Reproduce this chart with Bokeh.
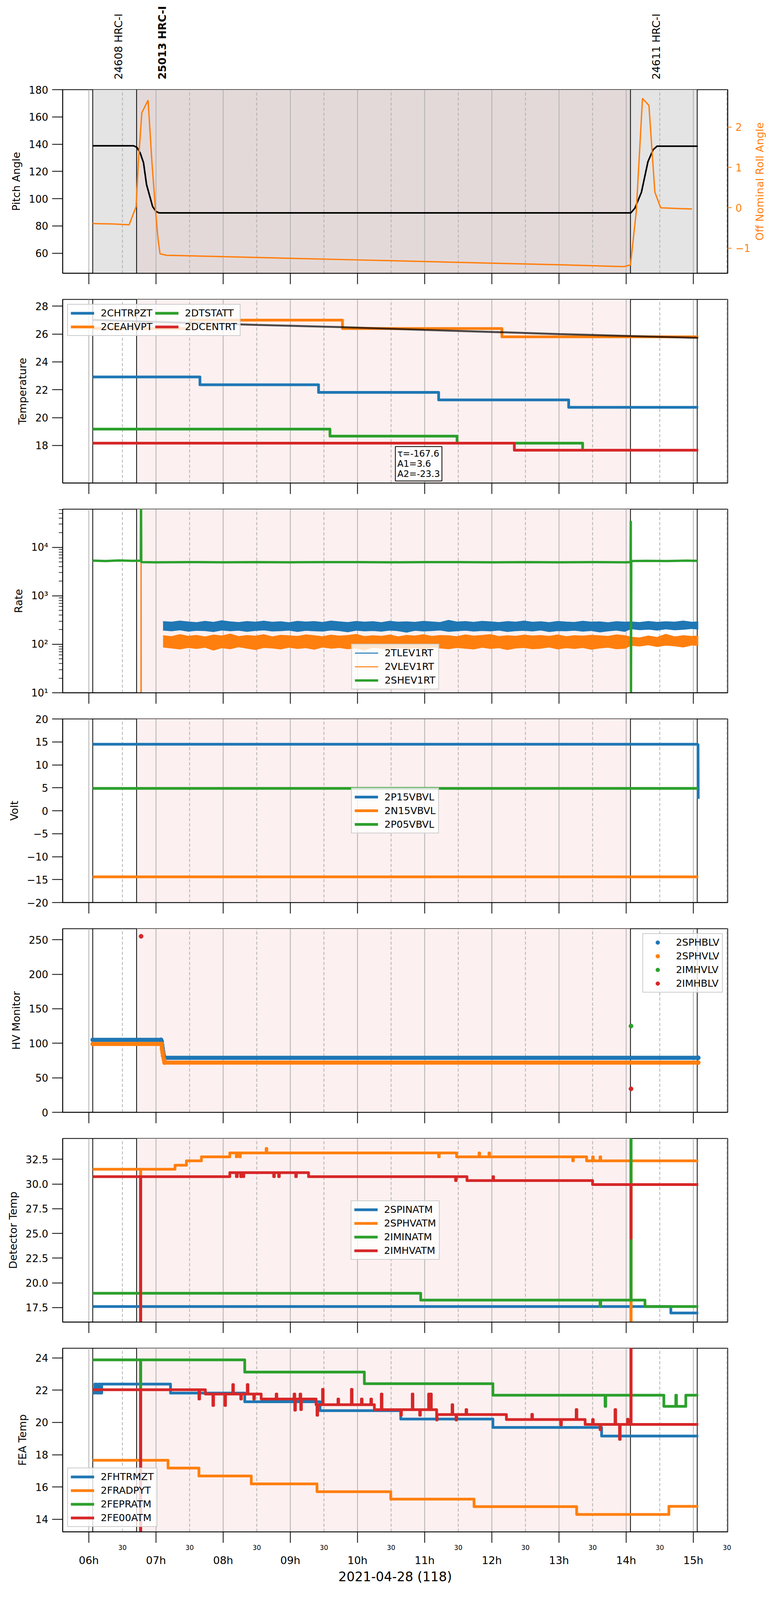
"""
HRC telemetry overview for 2021-04-28 (118): pitch/roll, temperatures,
rates, voltages, HV monitors, detector and FEA temperatures.
Seven stacked Bokeh panels sharing one time axis (decimal hours),
with a thin header strip for the observation names.
"""

import math

from bokeh.core.properties import value
from bokeh.embed import file_html
from bokeh.layouts import column, row
from bokeh.models import (
    BoxAnnotation,
    FixedTicker,
    Grid,
    Label,
    LinearAxis,
    PrintfTickFormatter,
    Range1d,
    Span,
)
from bokeh.plotting import figure
from bokeh.resources import INLINE

FONT = "DejaVu Sans"
BLUE, ORANGE, GREEN, RED = "#1f77b4", "#ff7f0e", "#2ca02c", "#d62728"
FRAME_W, FRAME_H = 1703, 470

# ── time axis (hours of the day) ───────────────────────────
X_START, X_END = 5.6105, 15.5116
HOURS = [6, 7, 8, 9, 10, 11, 12, 13, 14, 15]
HOUR_LABELS = ["06h", "07h", "08h", "09h", "10h", "11h", "12h", "13h", "14h", "15h"]
HALF_HOURS = [6.5, 7.5, 8.5, 9.5, 10.5, 11.5, 12.5, 13.5, 14.5, 15.5]
X_TITLE = "2021-04-28 (118)"

# ── observations ───────────────────────────────────────────
OBS_START = [6.058, 6.711, 14.064]
OBS_END = 15.058
OBS_NAMES = ["24608 HRC-I", "25013 HRC-I", "24611 HRC-I"]
MAIN_OBS = 1

# ── panel 1: pitch / off nominal roll ──────────────────────
ROLL_LABEL = "Off Nominal Roll Angle"
PITCH_T = [6.058, 6.669, 6.717, 6.765, 6.814, 6.859, 6.949, 7.000, 7.045,
           14.070, 14.130, 14.227, 14.324, 14.401, 14.459, 15.066]
PITCH_V = [138.8, 138.8, 137.6, 133.5, 126.4, 110.4, 94.3, 90.6, 89.6,
           89.6, 93.1, 104.7, 127.1, 135.9, 138.5, 138.5]
ROLL_T = [6.058, 6.35, 6.600, 6.704, 6.737, 6.789, 6.882, 6.940, 6.993, 7.030,
          7.060, 7.157, 8.0, 9.0, 10.0, 11.0, 12.0, 13.0, 13.968, 14.064,
          14.150, 14.243, 14.339, 14.427, 14.514, 14.800, 14.980]
ROLL_V = [-0.39, -0.40, -0.42, 0.03, 1.11, 2.355, 2.663, 1.11, -0.06, -0.77,
          -1.14, -1.175, -1.21, -1.25, -1.29, -1.33, -1.37, -1.41, -1.456, -1.414,
          -0.10, 2.708, 2.536, 0.389, 0.0, -0.02, -0.03]

# ── panel 2: temperatures ──────────────────────────────────
CHTRPZT_T = [6.058, 7.654, 9.420, 11.208, 13.144, 15.073]
CHTRPZT_V = [22.92, 22.36, 21.81, 21.27, 20.74, 20.74]
CEAHVPT_T = [6.058, 7.513, 9.776, 12.150, 15.073]
CEAHVPT_V = [26.40, 27.00, 26.40, 25.80, 25.80]
DTSTATT_T = [6.058, 9.590, 11.482, 13.352, 15.073]
DTSTATT_V = [19.17, 18.67, 18.16, 17.66, 17.66]
DCENTRT_T = [6.058, 12.335, 15.073]
DCENTRT_V = [18.16, 17.66, 17.66]
FIT_T = [6.058, 7.513, 8.5, 9.828, 11.0, 12.15, 13.0, 14.06, 15.073]
FIT_V = [27.02, 26.80, 26.66, 26.49, 26.30, 26.13, 26.00, 25.86, 25.73]
FIT_TEXT = "\u03c4=-167.6\nA1=3.6\nA2=-23.3"

# ── panel 3: rates (band = low/high of the readings per bin) ─
RATE_T = [7.105, 7.23, 7.355, 7.48, 7.605, 7.73, 7.855, 7.98,
          8.105, 8.23, 8.355, 8.48, 8.605, 8.73, 8.855, 8.98,
          9.105, 9.23, 9.355, 9.48, 9.605, 9.73, 9.855, 9.98,
          10.105, 10.23, 10.355, 10.48, 10.605, 10.73, 10.855, 10.98,
          11.105, 11.23, 11.355, 11.48, 11.605, 11.73, 11.855, 11.98,
          12.105, 12.23, 12.355, 12.48, 12.605, 12.73, 12.855, 12.98,
          13.105, 13.23, 13.355, 13.48, 13.605, 13.73, 13.855, 13.98,
          14.07, 14.2, 14.33, 14.46, 14.59, 14.72, 14.85, 14.98,
          15.073]
TLEV1RT_HI = [292, 285, 300, 288, 279, 296, 283, 305,
              290, 281, 294, 286, 299, 284, 291, 278,
              297, 287, 293, 282, 300, 289, 280, 295,
              286, 292, 279, 298, 285, 290, 283, 296,
              288, 281, 310, 287, 294, 283, 297, 289,
              280, 293, 286, 300, 284, 291, 279, 295,
              287, 282, 298, 285, 290, 278, 292, 286,
              288, 280, 295, 283, 291, 286, 300, 284,
              290]
TLEV1RT_LO = [196, 190, 199, 186, 194, 192, 183, 197,
              190, 195, 185, 193, 198, 188, 191, 196,
              184, 194, 190, 187, 197, 192, 181, 195,
              189, 193, 186, 196, 191, 178, 194, 188,
              192, 197, 185, 190, 195, 187, 193, 189,
              196, 184, 191, 194, 188, 197, 183, 192,
              190, 195, 186, 193, 180, 189, 196, 185,
              210, 200, 205, 196, 208, 199, 204, 212,
              205]
VLEV1RT_HI = [150, 143, 158, 146, 152, 141, 155, 148,
              162, 144, 151, 147, 157, 142, 153, 149,
              145, 156, 150, 143, 154, 147, 151, 159,
              144, 150, 146, 155, 142, 152, 148, 157,
              145, 151, 149, 143, 156, 147, 152, 158,
              144, 150, 146, 154, 148, 151, 145, 156,
              143, 150, 147, 153, 149, 145, 156, 150,
              140, 135, 148, 138, 160, 142, 150, 145,
              148]
VLEV1RT_LO = [88, 84, 80, 86, 82, 87, 76, 85,
              81, 89, 83, 78, 86, 84, 80, 87,
              82, 85, 79, 88, 83, 86, 81, 84,
              77, 87, 83, 80, 86, 82, 85, 79,
              88, 84, 81, 86, 83, 80, 87, 82,
              85, 78, 84, 86, 81, 83, 88, 80,
              85, 82, 86, 79, 84, 87, 81, 83,
              95, 92, 98, 90, 96, 93, 88, 97,
              94]
VLEV1RT_SPIKE_T = [6.775, 6.778, 6.781]
VLEV1RT_SPIKE_V = [1, 100000, 1]
SHEV1RT_T = [6.058, 6.25, 6.45, 6.65, 6.774, 6.777, 6.781, 7.0, 7.5, 8.0,
             8.5, 9.0, 9.5, 10.0, 10.5, 11.0, 11.5, 12.0, 12.5, 13.0,
             13.5, 14.0, 14.066, 14.069, 14.072, 14.076, 14.3, 14.6, 14.9, 15.058]
SHEV1RT_V = [5300, 5200, 5350, 5250, 5300, 100000, 4950, 4900, 4950, 4900,
             4950, 4900, 4950, 4950, 4900, 4950, 4950, 4900, 4950, 4900,
             4950, 4900, 4950, 35000, 5, 5200, 5250, 5200, 5300, 5250]

# ── panel 4: voltages ──────────────────────────────────────
P15VBVL_T = [6.058, 15.070, 15.073]
P15VBVL_V = [14.5, 14.5, 2.6]
N15VBVL_T = [6.058, 15.073]
N15VBVL_V = [-14.4, -14.4]
P05VBVL_T = [6.058, 15.073]
P05VBVL_V = [4.87, 4.87]

# ── panel 5: HV monitors ───────────────────────────────────
SPHBLV_T = [6.058, 7.075, 7.083, 7.090, 7.098, 7.105, 7.113, 7.127, 15.073]
SPHBLV_V = [105, 105, 103, 97.7, 92.5, 87.7, 83, 79, 79]
SPHVLV_T = [6.058, 7.075, 7.083, 7.090, 7.098, 7.105, 7.120, 7.127, 15.073]
SPHVLV_V = [99, 99, 99, 91.6, 87.2, 82, 76, 72, 72]
IMHVLV_T = [14.072]
IMHVLV_V = [125]
IMHBLV_T = [6.778, 14.072]
IMHBLV_V = [255, 34]

# ── panel 6: detector temperatures ─────────────────────────
SPINATM_T = [6.058, 14.665, 15.073]
SPINATM_V = [17.6, 16.95, 16.95]
SPHVATM_T = [6.058, 6.769, 6.773, 7.283, 7.453, 7.676, 8.099, 8.195, 8.205, 8.245,
             8.255, 8.640, 8.650, 11.207, 11.217, 11.475, 11.809, 11.819, 11.957, 11.967,
             13.204, 13.214, 13.411, 13.500, 13.510, 13.611, 13.621, 14.070, 14.074, 15.073]
SPHVATM_V = [31.5, 0.0, 31.5, 31.9, 32.35, 32.75, 33.15, 32.75, 33.15, 32.75,
             33.15, 33.6, 33.15, 32.75, 33.15, 32.75, 33.15, 32.75, 33.15, 32.75,
             32.35, 32.75, 32.35, 32.75, 32.35, 32.75, 32.35, 0.0, 32.35, 32.35]
IMINATM_T = [6.058, 10.941, 13.611, 13.621, 14.070, 14.074, 14.280, 15.073]
IMINATM_V = [18.95, 18.25, 17.6, 18.25, 40.0, 18.25, 17.6, 17.6]
IMHVATM_T = [6.058, 6.769, 6.773, 8.099, 8.196, 8.21, 8.26, 8.27, 8.30, 8.307,
             8.752, 8.762, 8.826, 8.836, 9.08, 9.09, 9.271, 11.460, 11.470, 11.630,
             12.016, 12.026, 13.500, 14.070, 14.074, 15.073]
IMHVATM_V = [30.75, 0.0, 30.75, 31.15, 30.75, 31.15, 30.75, 31.15, 30.75, 31.15,
             30.75, 31.15, 30.75, 31.15, 30.75, 31.15, 30.75, 30.35, 30.75, 30.35,
             30.75, 30.35, 29.95, 24.5, 29.95, 29.95]

# ── panel 7: FEA temperatures ──────────────────────────────
FHTRMZT_T = [6.058, 6.09, 6.12, 6.15, 6.17, 6.192, 7.216, 8.321, 9.442, 10.644,
             12.016, 13.634, 15.073]
FHTRMZT_V = [21.82, 22.38, 21.82, 22.38, 21.82, 22.38, 21.82, 21.28, 20.73, 20.21,
             19.69, 19.16, 19.16]
FRADPYT_T = [6.058, 7.179, 7.639, 8.418, 9.397, 10.495, 11.735, 13.263, 14.636, 15.073]
FRADPYT_V = [17.66, 17.17, 16.68, 16.19, 15.71, 15.25, 14.78, 14.30, 14.80, 14.80]
FEPRATM_T = [6.058, 6.769, 6.773, 8.321, 10.102, 12.016, 13.686, 13.696, 14.561, 14.739,
             14.749, 14.888, 15.073]
FEPRATM_V = [23.88, 0.0, 23.88, 23.12, 22.40, 21.69, 21.0, 21.69, 21.0, 21.69,
             21.0, 21.69, 21.69]
FE00ATM_T = [6.058, 6.769, 6.773, 7.639, 7.649, 7.735, 7.847, 7.857, 8.025, 8.035,
             8.143, 8.153, 8.262, 8.272, 8.359, 8.369, 8.455, 8.465, 8.566, 8.789,
             8.799, 9.056, 9.066, 9.076, 9.145, 9.155, 9.165, 9.383, 9.397, 9.407,
             9.479, 9.489, 9.709, 9.719, 9.909, 9.919, 10.058, 10.068, 10.199, 10.209,
             10.251, 10.354, 10.364, 10.644, 10.654, 10.815, 10.825, 10.926, 10.936, 11.059,
             11.069, 11.089, 11.099, 11.178, 11.185, 11.408, 11.418, 11.467, 11.477, 11.616,
             11.626, 12.217, 12.595, 12.605, 13.026, 13.036, 13.256, 13.266, 13.389, 13.500,
             13.510, 13.611, 13.621, 13.834, 13.844, 13.901, 13.911, 14.020, 14.030, 14.070,
             14.074, 15.073]
FE00ATM_V = [22.03, 0.0, 22.03, 21.45, 22.03, 21.76, 21.05, 21.76, 21.05, 21.76,
             22.35, 21.76, 21.45, 21.76, 22.35, 21.76, 21.45, 21.76, 21.45, 21.76,
             21.45, 21.76, 20.76, 21.45, 21.76, 20.80, 21.45, 21.10, 20.45, 21.10,
             22.05, 21.10, 21.45, 21.10, 22.05, 21.10, 21.45, 21.10, 21.45, 21.10,
             20.79, 21.76, 20.79, 20.45, 20.79, 21.76, 20.79, 20.45, 20.79, 21.76,
             20.79, 21.76, 20.79, 20.15, 20.49, 21.10, 20.49, 20.15, 20.49, 20.80,
             20.49, 20.18, 20.50, 20.18, 19.85, 20.18, 20.80, 20.18, 19.88, 20.18,
             19.88, 19.55, 19.88, 20.80, 19.88, 18.95, 19.88, 20.20, 19.88, 30.0,
             19.88, 19.88]

x_range = Range1d(X_START, X_END)


def _style_y(ax, ticks, overrides=None):
    ax.ticker = FixedTicker(ticks=ticks)
    if overrides:
        ax.major_label_overrides = overrides
    ax.axis_line_color = "black"
    ax.axis_line_width = 2
    ax.major_tick_out = 27
    ax.major_tick_in = 0
    ax.major_tick_line_color = "black"
    ax.major_tick_line_width = 2
    ax.minor_tick_line_color = None
    ax.major_label_text_font = FONT
    ax.major_label_text_font_size = "26px"
    ax.major_label_text_color = "black"
    ax.major_label_standoff = 10
    ax.axis_label_text_font = FONT
    ax.axis_label_text_font_size = "27px"
    ax.axis_label_text_font_style = "normal"
    ax.axis_label_text_color = "black"
    ax.axis_label_standoff = 14


def make_panel(y_range, ylabel, yticks, border_top=33, border_bottom=34,
               border_right=120, y_axis_type="linear", overrides=None, top_panel=False):
    p = figure(
        frame_width=FRAME_W, frame_height=FRAME_H,
        x_range=x_range, y_range=y_range, y_axis_type=y_axis_type,
        output_backend="svg", toolbar_location=None,
        min_border_left=160, min_border_right=border_right,
        min_border_top=border_top, min_border_bottom=border_bottom,
        background_fill_color="white", border_fill_color="white",
        outline_line_color="black", outline_line_width=2, outline_line_alpha=1.0,
    )
    p.xgrid.visible = False
    p.ygrid.visible = False
    for ticks, dash in ((HOURS, "solid"), (HALF_HOURS, "8 5")):
        p.add_layout(Grid(dimension=0, ticker=FixedTicker(ticks=ticks),
                          grid_line_color="#b0b0b0", grid_line_width=2,
                          grid_line_dash=dash))

    # shaded observation intervals
    if top_panel:
        boxes = [(OBS_START[0], OBS_START[1], "#e4e4e4"),
                 (OBS_START[1], OBS_START[2], "#e4d9d9"),
                 (OBS_START[2], OBS_END, "#e4e4e4")]
    else:
        boxes = [(OBS_START[MAIN_OBS], OBS_START[MAIN_OBS + 1], "#fdf0f0")]
    for left, right, color in boxes:
        p.add_layout(BoxAnnotation(left=left, right=right, fill_color=color,
                                   fill_alpha=1.0, line_color=None, level="image"))
    for t in OBS_START + [OBS_END]:
        p.add_layout(Span(location=t, dimension="height", line_color="black",
                          line_width=2, level="underlay"))

    # hour ticks only (drawn as minor ticks so no labels are produced)
    xa = p.xaxis[0]
    xa.ticker = FixedTicker(ticks=[], minor_ticks=HOURS)
    xa.axis_line_width = 2
    xa.axis_line_color = "black"
    xa.major_tick_out = 0
    xa.major_tick_line_color = None
    xa.minor_tick_out = 28
    xa.minor_tick_in = 0
    xa.minor_tick_line_width = 2
    xa.minor_tick_line_color = "black"
    xa.major_label_standoff = 0

    ya = p.yaxis[0]
    ya.axis_label = ylabel
    _style_y(ya, yticks, overrides)
    return p


def style_legend(p, location, ncols=1):
    leg = p.legend[0]
    leg.location = location
    leg.ncols = ncols
    leg.label_text_font = FONT
    leg.label_text_font_size = "25px"
    leg.label_text_color = "black"
    leg.label_height = 25
    leg.glyph_height = 25
    leg.glyph_width = 60
    leg.label_standoff = 17
    leg.spacing = 6
    leg.padding = 7
    leg.margin = 12
    leg.background_fill_color = "white"
    leg.background_fill_alpha = 0.8
    leg.border_line_color = "#cccccc"
    leg.border_line_width = 2
    leg.border_line_alpha = 1.0


# ── Header strip: observation names ────────────────────────
head = figure(
    frame_width=FRAME_W, frame_height=205, x_range=x_range, y_range=Range1d(0, 205),
    output_backend="svg", toolbar_location=None,
    x_axis_location=None, y_axis_location=None,
    min_border_left=160, min_border_right=120, min_border_top=0, min_border_bottom=0,
    outline_line_color=None,
)
head.grid.visible = False
for bold in (False, True):
    idx = [i for i in range(len(OBS_NAMES)) if (i == MAIN_OBS) == bold]
    head.text(
        x=[OBS_START[i] for i in idx], y=[2] * len(idx),
        text=[OBS_NAMES[i] for i in idx],
        angle=math.pi / 2, x_offset=66, text_align="left", text_baseline="alphabetic",
        text_font=value(FONT), text_font_size="27px", text_color="black",
        text_font_style="bold" if bold else "normal",
    )

# ── Panel 1: Pitch Angle / Off Nominal Roll Angle ──────────
p1 = make_panel(Range1d(45.3, 180.0), "Pitch Angle", [60, 80, 100, 120, 140, 160, 180],
                border_top=24, border_right=62, top_panel=True)
p1.extra_y_ranges = {"roll": Range1d(-1.62, 2.925)}
roll_axis = LinearAxis(y_range_name="roll")
_style_y(roll_axis, [-1, 0, 1, 2], {-1: "\u22121"})
roll_axis.major_tick_out = 10
roll_axis.major_tick_line_color = ORANGE
roll_axis.major_label_text_color = ORANGE
p1.add_layout(roll_axis, "right")
p1.line(PITCH_T, PITCH_V, color="black", line_width=4)
p1.line(ROLL_T, ROLL_V, color=ORANGE, line_width=3.5, y_range_name="roll")

# right-hand axis title, set in its own narrow strip so it reads bottom-to-top
roll_title = figure(
    frame_width=58, frame_height=FRAME_H, x_range=Range1d(0, 58), y_range=Range1d(0, 1),
    output_backend="svg", toolbar_location=None,
    x_axis_location=None, y_axis_location=None,
    min_border_left=0, min_border_right=0, min_border_top=24, min_border_bottom=34,
    outline_line_color=None,
)
roll_title.grid.visible = False
roll_title.text(
    x=[20], y=[0.5], text=[ROLL_LABEL], angle=math.pi / 2,
    text_align="center", text_baseline="middle",
    text_font=value(FONT), text_font_size="27px", text_color=ORANGE,
)

# ── Panel 2: Temperature ───────────────────────────────────
p2 = make_panel(Range1d(15.3, 28.49), "Temperature", [18, 20, 22, 24, 26, 28])
for t, v, color, name in (
    (CHTRPZT_T, CHTRPZT_V, BLUE, "2CHTRPZT"),
    (CEAHVPT_T, CEAHVPT_V, ORANGE, "2CEAHVPT"),
    (DTSTATT_T, DTSTATT_V, GREEN, "2DTSTATT"),
    (DCENTRT_T, DCENTRT_V, RED, "2DCENTRT"),
):
    p2.step(t, v, mode="after", color=color, line_width=7, line_join="round",
            legend_label=name)
p2.line(FIT_T, FIT_V, color="black", line_alpha=0.7, line_width=5)
# fit annotation box, kept inside the frame just under the red trace
p2.add_layout(Label(
    x=10.564, y=15.45, text=FIT_TEXT, text_align="left", text_baseline="bottom",
    text_font=FONT, text_font_size="23px", text_color="black", text_line_height=1.0,
    background_fill_color="white", background_fill_alpha=1.0,
    border_line_color="black", border_line_width=2, padding=5,
))
style_legend(p2, "top_left", ncols=2)

# ── Panel 3: Rate ──────────────────────────────────────────
p3 = make_panel(Range1d(10, 61000), "Rate", [10, 100, 1000, 10000], y_axis_type="log",
                overrides={10: "10\u00b9", 100: "10\u00b2", 1000: "10\u00b3",
                           10000: "10\u2074"})
p3.yaxis[0].ticker = FixedTicker(
    ticks=[10, 100, 1000, 10000],
    minor_ticks=[m * d for d in (10, 100, 1000, 10000) for m in range(2, 10)],
)
p3.yaxis[0].minor_tick_line_color = "black"
p3.yaxis[0].minor_tick_line_width = 1.5
p3.yaxis[0].minor_tick_out = 10
p3.yaxis[0].minor_tick_in = 0
for hi, lo, color, name in (
    (TLEV1RT_HI, TLEV1RT_LO, BLUE, "2TLEV1RT"),
    (VLEV1RT_HI, VLEV1RT_LO, ORANGE, "2VLEV1RT"),
):
    p3.varea(RATE_T, lo, hi, fill_color=color)
    p3.line(RATE_T, lo, color=color, line_width=2.5)
    p3.line(RATE_T, hi, color=color, line_width=2.5, legend_label=name)
p3.line(VLEV1RT_SPIKE_T, VLEV1RT_SPIKE_V, color=ORANGE, line_width=3)
p3.line(SHEV1RT_T, SHEV1RT_V, color=GREEN, line_width=6, legend_label="2SHEV1RT")
style_legend(p3, "bottom_center")
p3.legend[0].margin = 8

# ── Panel 4: Volt ──────────────────────────────────────────
p4 = make_panel(Range1d(-20, 20), "Volt", [-20, -15, -10, -5, 0, 5, 10, 15, 20],
                overrides={-20: "\u221220", -15: "\u221215", -10: "\u221210", -5: "\u22125"})
for t, v, color, name in (
    (P15VBVL_T, P15VBVL_V, BLUE, "2P15VBVL"),
    (N15VBVL_T, N15VBVL_V, ORANGE, "2N15VBVL"),
    (P05VBVL_T, P05VBVL_V, GREEN, "2P05VBVL"),
):
    p4.line(t, v, color=color, line_width=7, legend_label=name)
style_legend(p4, "center")

# ── Panel 5: HV Monitor ────────────────────────────────────
p5 = make_panel(Range1d(0, 266), "HV Monitor", [0, 50, 100, 150, 200, 250])
for t, v, color, name, dense in (
    (SPHBLV_T, SPHBLV_V, BLUE, "2SPHBLV", True),
    (SPHVLV_T, SPHVLV_V, ORANGE, "2SPHVLV", True),
    (IMHVLV_T, IMHVLV_V, GREEN, "2IMHVLV", False),
    (IMHBLV_T, IMHBLV_V, RED, "2IMHBLV", False),
):
    if dense:
        # samples every few seconds: plateaus read as a solid band of dots
        p5.line(t, v, color=color, line_width=10.5, line_cap="round")
    p5.scatter(t, v, size=11, color=color, legend_label=name)
style_legend(p5, "top_right")

# ── Panel 6: Detector Temp ─────────────────────────────────
p6 = make_panel(Range1d(16.03, 34.61), "Detector Temp",
                [17.5, 20.0, 22.5, 25.0, 27.5, 30.0, 32.5])
p6.yaxis[0].formatter = PrintfTickFormatter(format="%.1f")
for t, v, color, name in (
    (SPINATM_T, SPINATM_V, BLUE, "2SPINATM"),
    (SPHVATM_T, SPHVATM_V, ORANGE, "2SPHVATM"),
    (IMINATM_T, IMINATM_V, GREEN, "2IMINATM"),
    (IMHVATM_T, IMHVATM_V, RED, "2IMHVATM"),
):
    p6.step(t, v, mode="after", color=color, line_width=7, line_join="round",
            legend_label=name)
style_legend(p6, "center")

# ── Panel 7: FEA Temp + time axis ──────────────────────────
p7 = make_panel(Range1d(13.22, 24.60), "FEA Temp", [14, 16, 18, 20, 22, 24],
                border_bottom=100)
for t, v, color, name in (
    (FHTRMZT_T, FHTRMZT_V, BLUE, "2FHTRMZT"),
    (FRADPYT_T, FRADPYT_V, ORANGE, "2FRADPYT"),
    (FEPRATM_T, FEPRATM_V, GREEN, "2FEPRATM"),
    (FE00ATM_T, FE00ATM_V, RED, "2FE00ATM"),
):
    p7.step(t, v, mode="after", color=color, line_width=7, line_join="round",
            legend_label=name)
style_legend(p7, "bottom_left")

# half-hour "30" labels next to the frame, long hour ticks as minor ticks
xa = p7.xaxis[0]
xa.ticker = FixedTicker(ticks=HALF_HOURS, minor_ticks=HOURS)
xa.major_label_overrides = {h: "30" for h in HALF_HOURS}
xa.major_label_text_font = FONT
xa.major_label_text_font_size = "17px"
xa.major_label_text_color = "black"
xa.major_label_standoff = 5

hour_axis = LinearAxis(
    ticker=FixedTicker(ticks=HOURS),
    major_label_overrides=dict(zip(HOURS, HOUR_LABELS)),
    axis_label=X_TITLE,
)
hour_axis.axis_line_color = None
hour_axis.major_tick_line_color = None
hour_axis.minor_tick_line_color = None
hour_axis.major_label_text_font = FONT
hour_axis.major_label_text_font_size = "27px"
hour_axis.major_label_text_color = "black"
hour_axis.major_label_standoff = 2
hour_axis.axis_label_text_font = FONT
hour_axis.axis_label_text_font_size = "33px"
hour_axis.axis_label_text_font_style = "normal"
hour_axis.axis_label_text_color = "black"
hour_axis.axis_label_standoff = 4
p7.add_layout(hour_axis, "below")

layout = column(head, row(p1, roll_title, spacing=0), p2, p3, p4, p5, p6, p7, spacing=0)

with open("out.html", "w") as f:
    f.write(file_html(layout, INLINE))
